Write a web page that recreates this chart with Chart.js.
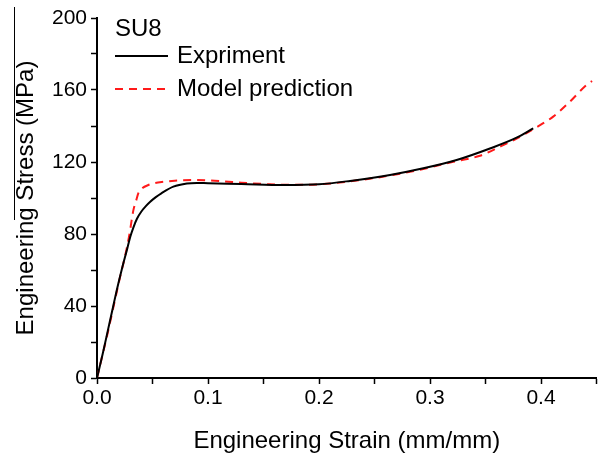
<!DOCTYPE html>
<html>
<head>
<meta charset="utf-8">
<script src="https://cdn.jsdelivr.net/npm/chart.js@4"></script>
<style>
  html, body { margin: 0; padding: 0; background: #fff; }
  #wrap { width: 606px; height: 456px; }
</style>
</head>
<body>
<div id="wrap"><canvas id="chart-stress"></canvas></div>
<script>
// Experiment curve (strain, stress)
const expStrain = [0, 0.005, 0.01, 0.015, 0.0177, 0.0222, 0.0273, 0.03, 0.033, 0.036, 0.04, 0.044, 0.0477, 0.053, 0.058, 0.0688, 0.081, 0.09, 0.1, 0.13, 0.168, 0.2, 0.228, 0.264, 0.294, 0.324, 0.354, 0.378, 0.393];
const expStress = [0, 13, 27, 41, 48.5, 60, 72, 78.5, 84, 88.5, 92.5, 95.5, 97.8, 100.5, 102.6, 106.3, 108.1, 108.4, 108.2, 107.8, 107.2, 107.6, 109.5, 112.8, 116.5, 121.1, 127.5, 133.5, 138.7];

// Model prediction curve
const modelStrain = [0, 0.01, 0.02, 0.025, 0.029, 0.0327, 0.0355, 0.0372, 0.041, 0.0462, 0.052, 0.06, 0.07, 0.085, 0.1, 0.115, 0.13, 0.15, 0.17, 0.2, 0.23, 0.265, 0.295, 0.32, 0.345, 0.363, 0.378, 0.396, 0.411, 0.426, 0.441, 0.446];
const modelStress = [0, 26, 54, 67, 79, 93, 99, 102.6, 105.5, 107.2, 108.3, 109, 109.6, 110, 109.8, 109.2, 108.5, 107.8, 107.3, 107.6, 109.4, 112.6, 116.3, 120, 123.5, 128.5, 133, 139.3, 145.2, 153.5, 162.8, 165];

const seriesNames = ["Expriment", "Model prediction"];
const panelLabel = "SU8";
const xTitle = "Engineering Strain (mm/mm)";
const yTitle = "Engineering Stress (MPa)";

const FONT = "'Liberation Sans', Arial, sans-serif";

function toPoints(xs, ys) {
  return xs.map((x, i) => ({ x: x, y: ys[i] }));
}

// legend drawn inside the plot, like the original figure
const legendPlugin = {
  id: "insideLegend",
  afterDraw(chart) {
    const ctx = chart.ctx;
    ctx.save();
    ctx.fillStyle = "#000";
    ctx.font = "24px " + FONT;
    ctx.textBaseline = "middle";
    ctx.textAlign = "left";
    ctx.fillText(panelLabel, 115, 29);

    ctx.lineWidth = 2;
    ctx.strokeStyle = "#000";
    ctx.beginPath();
    ctx.moveTo(115, 56);
    ctx.lineTo(168, 56);
    ctx.stroke();
    ctx.fillText(seriesNames[0], 177, 56);

    ctx.strokeStyle = "#ff1a1a";
    ctx.setLineDash([8, 6]);
    ctx.beginPath();
    ctx.moveTo(115, 89);
    ctx.lineTo(168, 89);
    ctx.stroke();
    ctx.setLineDash([]);
    ctx.fillText(seriesNames[1], 177, 89);

    // stray rule next to the y title in the source image
    ctx.strokeStyle = "#000";
    ctx.lineWidth = 1;
    ctx.beginPath();
    ctx.moveTo(14.5, 7);
    ctx.lineTo(14.5, 220);
    ctx.stroke();
    ctx.restore();
  }
};

const ctx = document.getElementById("chart-stress").getContext("2d");
new Chart(ctx, {
  type: "line",
  data: {
    datasets: [
      {
        label: seriesNames[0],
        data: toPoints(expStrain, expStress),
        borderColor: "#000",
        borderWidth: 2,
        pointRadius: 0,
        cubicInterpolationMode: "monotone",
        fill: false
      },
      {
        label: seriesNames[1],
        data: toPoints(modelStrain, modelStress),
        borderColor: "#ff1a1a",
        borderWidth: 2,
        borderDash: [8, 6],
        pointRadius: 0,
        cubicInterpolationMode: "monotone",
        fill: false
      }
    ]
  },
  options: {
    responsive: true,
    maintainAspectRatio: false,
    animation: false,
    events: [],
    layout: {
      autoPadding: false,
      padding: { top: 18, right: 9.5, left: 0, bottom: 0 }
    },
    plugins: {
      legend: { display: false },
      tooltip: { enabled: false }
    },
    scales: {
      x: {
        type: "linear",
        min: 0,
        max: 0.45,
        afterFit: s => { s.height = 78; },
        border: { display: true, color: "#000", width: 2 },
        grid: { drawOnChartArea: false, drawTicks: true, tickLength: 6, tickColor: "#000", tickWidth: 1.5 },
        ticks: {
          stepSize: 0.05,
          color: "#000",
          font: { family: FONT, size: 21 },
          padding: 2,
          maxRotation: 0,
          autoSkip: false,
          callback: v => (Math.round(v * 100) % 10 === 0 ? v.toFixed(1) : "")
        },
        title: {
          display: true,
          text: xTitle,
          color: "#000",
          font: { family: FONT, size: 24 },
          padding: { top: 4, bottom: 0 }
        }
      },
      y: {
        min: 0,
        max: 200,
        afterFit: s => { s.width = 97; },
        border: { display: true, color: "#000", width: 2 },
        grid: { drawOnChartArea: false, drawTicks: true, tickLength: 6, tickColor: "#000", tickWidth: 1.5 },
        ticks: {
          stepSize: 20,
          color: "#000",
          font: { family: FONT, size: 21 },
          padding: 4,
          autoSkip: false,
          callback: v => (v % 40 === 0 ? String(v) : "")
        },
        title: {
          display: true,
          text: yTitle,
          color: "#000",
          font: { family: FONT, size: 24 },
          padding: { top: 12, bottom: 0 }
        }
      }
    }
  },
  plugins: [legendPlugin]
});
</script>
</body>
</html>
